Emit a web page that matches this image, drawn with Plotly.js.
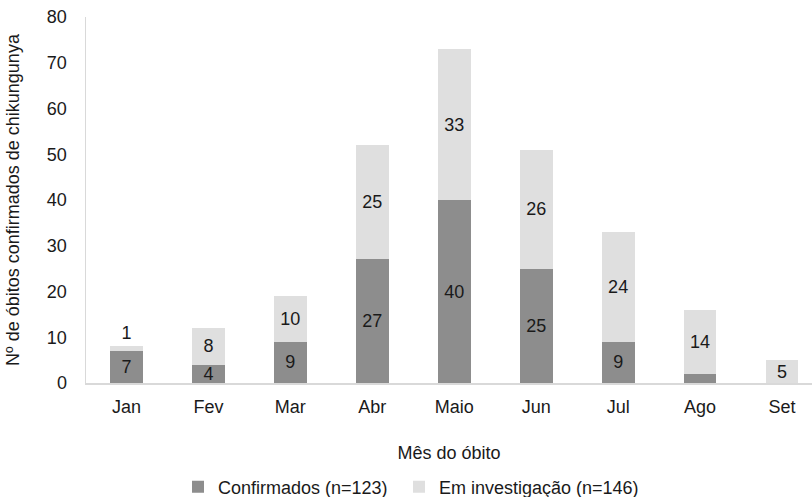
<!DOCTYPE html>
<html>
<head>
<meta charset="utf-8">
<script src="https://cdn.plot.ly/plotly-3.0.1.min.js"></script>
<style>html,body{margin:0;padding:0;background:#fff;}#chart{width:812px;height:497px;}</style>
</head>
<body>
<div id="chart"></div>
<script>
const months = ["Jan","Fev","Mar","Abr","Maio","Jun","Jul","Ago","Set"];
const confirmados = [7,4,9,27,40,25,9,2,0];
const investigacao = [1,8,10,25,33,26,24,14,5];
const confName = "Confirmados (n=123)";
const invName = "Em investigação (n=146)";

const confText = confirmados.map(v => v > 2 ? String(v) : "");
const invText = investigacao.map(v => String(v));
const invPos = investigacao.map(v => v < 3 ? "outside" : "inside");

const font = {family: "Liberation Sans, Arial, sans-serif", size: 18, color: "#1a1a1a"};

const traces = [
  {type: "bar", x: months, y: confirmados, name: confName, width: 0.4, legend: "legend",
   marker: {color: "#8d8d8d"}, text: confText, textposition: "inside", textangle: 0,
   insidetextanchor: "middle", constraintext: "none", cliponaxis: false,
   textfont: font, insidetextfont: font, hoverinfo: "none"},
  {type: "bar", x: months, y: investigacao, name: invName, width: 0.4, legend: "legend2",
   marker: {color: "#dfdfdf"}, text: invText, textposition: invPos, textangle: 0,
   insidetextanchor: "middle", constraintext: "none", cliponaxis: false,
   textfont: font, insidetextfont: font, outsidetextfont: font, hoverinfo: "none"}
];

const legendBase = {orientation: "h", xref: "container", yref: "container",
                    xanchor: "left", yanchor: "middle", y: 0.02, font: font,
                    bgcolor: "rgba(0,0,0,0)"};

const layout = {
  width: 812, height: 497,
  barmode: "stack",
  font: font,
  paper_bgcolor: "#fff", plot_bgcolor: "#fff",
  margin: {l: 86, r: 0, t: 17, b: 114},
  showlegend: true,
  legend: Object.assign({}, legendBase, {x: 178 / 812}),
  legend2: Object.assign({}, legendBase, {x: 399 / 812}),
  xaxis: {range: [-0.494, 8.366], showline: true, linecolor: "#d9d9d9", linewidth: 1.5,
          ticks: "", showgrid: false, zeroline: false, ticklabelstandoff: 7, automargin: false,
          title: {text: "Mês do óbito", font: font, standoff: 30}},
  yaxis: {range: [0, 80], dtick: 10, showline: true, linecolor: "#d9d9d9", linewidth: 1.5,
          ticks: "", showgrid: false, zeroline: false, ticklabelstandoff: 14, automargin: false,
          title: {text: "Nº de óbitos confirmados de chikungunya", font: font, standoff: 22}}
};

Plotly.newPlot("chart", traces, layout, {displayModeBar: false, staticPlot: true});
</script>
</body>
</html>
